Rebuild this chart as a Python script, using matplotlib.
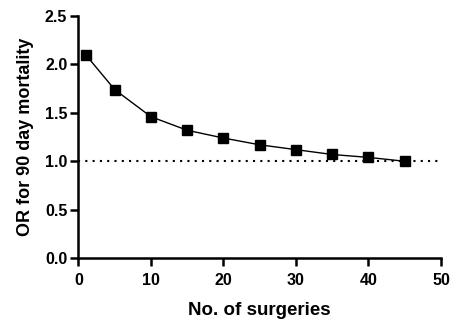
import matplotlib
matplotlib.use("Agg")
from matplotlib import pyplot as plt

# data
surgeries = [1, 5, 10, 15, 20, 25, 30, 35, 40, 45]
odds_ratio = [2.10, 1.74, 1.46, 1.32, 1.24, 1.17, 1.12, 1.07, 1.04, 1.00]
x_ticks = [0, 10, 20, 30, 40, 50]
y_ticks = [0.0, 0.5, 1.0, 1.5, 2.0, 2.5]
reference_or = 1.0

plt.rcParams['font.family'] = ['Liberation Sans', 'DejaVu Sans']
plt.rcParams['font.weight'] = 'bold'

fig = plt.figure(figsize=(4.5, 3.21), dpi=100)
ax = fig.add_axes([0.1744, 0.196, 0.8056, 0.754])

ax.axhline(reference_or, color='black', linestyle=(0, (1, 2.5)), linewidth=1.5, zorder=1)
ax.plot(surgeries, odds_ratio, color='black', linewidth=1, marker='s', markersize=7, zorder=3)

ax.set_xlim(0, 50)
ax.set_ylim(0, 2.5)
ax.set_xticks(x_ticks)
ax.set_yticks(y_ticks)
ax.set_yticklabels([f"{v:.1f}" for v in y_ticks])

for side in ['top', 'right']:
    ax.spines[side].set_visible(False)
for side in ['left', 'bottom']:
    ax.spines[side].set_linewidth(1.8)
ax.tick_params(width=1.8, length=6, labelsize=11.5)
ax.tick_params(axis='x', pad=5)
ax.tick_params(axis='y', pad=2)
for lab in ax.get_xticklabels() + ax.get_yticklabels():
    lab.set_fontweight('bold')

ax.set_xlabel("No. of surgeries", fontsize=13.5, fontweight='bold', labelpad=10)
ax.set_ylabel("OR for 90 day mortality", fontsize=13, fontweight='bold', labelpad=8)

plt.savefig("out.png", dpi=100)
